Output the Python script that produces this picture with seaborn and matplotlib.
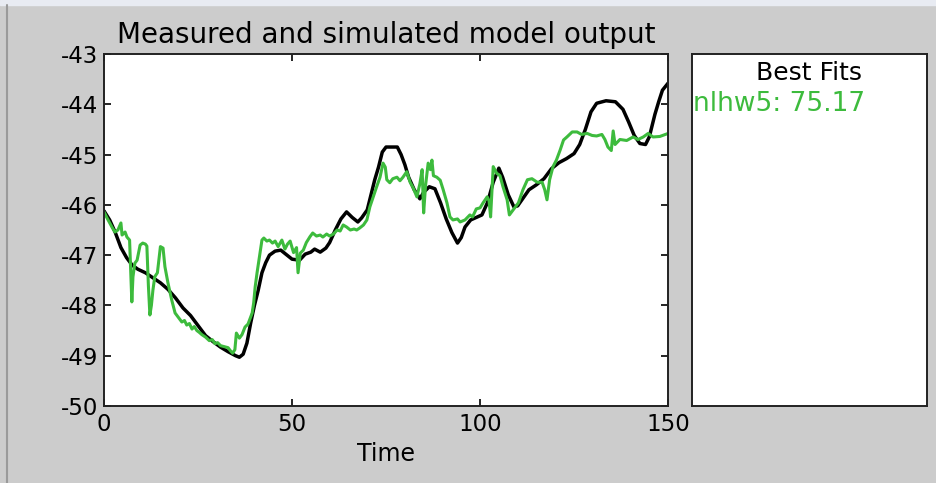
import matplotlib
matplotlib.use("Agg")
import matplotlib.pyplot as plt
import seaborn as sns

# measured output (black)
meas_t = [0, 1.5, 3, 4.5, 6, 7.5, 9, 11, 13, 15, 17, 19, 21, 23, 25, 27, 29, 31, 33, 35, 36,
          37, 38, 39, 40, 41, 42, 43, 44, 45.5, 47, 48, 50, 52, 53.5, 55, 56, 57.5, 59, 60,
          61.5, 63, 64.5, 66, 67.5, 68.5, 70, 71, 72, 73, 74, 75, 78, 79, 80, 81, 82.5, 84,
          85, 86.5, 88, 89.5, 91, 92.5, 94, 95, 96, 97.5, 99, 100.5, 102, 103.5, 105, 106,
          107.5, 109, 110, 111.5, 113, 115, 117, 119, 121, 123, 125, 126.5, 128, 129.5, 131,
          133.5, 136, 138, 139.5, 141, 142.5, 144, 145, 146.5, 147.5, 148.5, 150]
meas_y = [-46.12, -46.3, -46.55, -46.85, -47.05, -47.2, -47.28, -47.35, -47.45, -47.55, -47.68,
          -47.85, -48.05, -48.2, -48.4, -48.6, -48.72, -48.83, -48.92, -49.0, -49.03,
          -48.97, -48.75, -48.35, -48.0, -47.7, -47.35, -47.15, -47.0, -46.92, -46.9, -46.96,
          -47.08, -47.1, -46.98, -46.94, -46.88, -46.94, -46.86, -46.75,
          -46.5, -46.28, -46.14, -46.25, -46.34, -46.26, -46.1, -45.8, -45.5, -45.25, -44.95,
          -44.85, -44.85, -45.0, -45.2, -45.45, -45.7, -45.88,
          -45.75, -45.64, -45.68, -45.96, -46.28, -46.55, -46.76, -46.65, -46.44, -46.3,
          -46.25, -46.2, -45.95, -45.55, -45.27, -45.45,
          -45.8, -46.04, -46.02, -45.86, -45.7, -45.6, -45.48, -45.28, -45.16, -45.08, -44.98,
          -44.8, -44.5, -44.15, -43.98,
          -43.93, -43.95, -44.1, -44.35, -44.62, -44.78, -44.8, -44.65, -44.2, -43.95, -43.72,
          -43.58]

# simulated output nlhw5 (green)
sim_t = [0, 0.8, 2.1, 2.9, 3.7, 4.5, 4.8, 5.6, 6.1, 6.8, 7.4, 7.7, 8.2, 8.8, 9.6, 10.3, 11.0,
         11.4, 11.8, 12.2, 12.6, 13.0, 13.5, 14.2, 15.0, 15.7, 16.2, 17.0, 18.0, 18.9, 19.7,
         20.7, 21.4, 22.0, 22.7, 23.4, 24.0, 24.7, 25.4, 26.0, 27.0, 28.0, 28.8, 29.5, 30.2,
         31.0, 32.0, 33.0, 33.6, 34.2, 34.8, 35.2, 36.0, 36.7, 37.5, 38.3, 39.4, 39.8, 40.2,
         40.7, 41.2, 42.0, 42.5, 43.3, 44.0, 44.8, 45.5, 46.3, 47.3, 48.1, 48.8, 49.5, 50.4,
         51.2, 51.6, 52.2, 53.0, 53.8, 54.8, 55.5, 56.5, 57.5, 58.2, 59.2, 60.0, 61.0, 62.0,
         62.8, 63.6, 64.5, 65.5, 66.5, 67.2, 68.0, 69.0, 69.9, 70.7, 71.6, 72.5, 73.4, 74.2,
         74.8, 75.2, 76.0, 76.8, 77.9, 78.7, 79.5, 80.5, 81.4, 82.2, 83.2, 84.0, 84.6, 85.0,
         85.5, 86.2, 86.8, 87.2, 87.6, 88.5, 89.4, 90.2, 91.2, 92.0, 92.8, 94.0, 94.7, 96.0,
         97.3, 98.0, 99.0, 100.0, 100.8, 101.9, 102.4, 102.8, 103.5, 104.4, 105.3, 106.1,
         107.2, 107.8, 108.8, 110.2, 111.4, 112.6, 113.8, 115.2, 116.5, 117.2, 117.8, 118.5,
         119.4, 120.3, 121.3, 122.2, 123.1, 124.5, 125.8, 127.0, 128.5, 129.8, 131.0, 132.4,
         133.2, 134.0, 134.9, 135.4, 135.9, 137.2, 139.0, 140.7, 142.0, 143.4, 144.7, 146.0,
         147.8, 150.0]
sim_y = [-46.14, -46.26, -46.44, -46.54, -46.50, -46.36, -46.60, -46.54, -46.64, -46.70,
         -47.93, -47.43, -47.16, -47.10, -46.80, -46.76, -46.78,
         -46.82, -47.60, -48.19, -48.00, -47.70, -47.43, -47.35, -46.83, -46.86, -47.23,
         -47.55, -47.89, -48.15, -48.23,
         -48.33, -48.30, -48.39, -48.36, -48.47, -48.42, -48.50, -48.54, -48.58, -48.63,
         -48.70, -48.68, -48.76, -48.74,
         -48.80, -48.82, -48.84, -48.90, -48.95, -48.88, -48.55, -48.65, -48.58, -48.43,
         -48.37, -48.15, -47.95, -47.63,
         -47.35, -47.10, -46.70, -46.66, -46.72, -46.70, -46.76, -46.72, -46.83, -46.70,
         -46.88, -46.78, -46.72, -46.95,
         -46.85, -47.35, -46.96, -46.90, -46.75, -46.63, -46.56, -46.62, -46.60, -46.64,
         -46.58, -46.62, -46.58, -46.50,
         -46.52, -46.40, -46.44, -46.50, -46.48, -46.50, -46.46, -46.40, -46.30, -46.04,
         -45.84, -45.64, -45.45, -45.17,
         -45.25, -45.50, -45.56, -45.48, -45.45, -45.52, -45.45, -45.34, -45.55, -45.66,
         -45.84, -45.58, -45.30, -46.16,
         -45.62, -45.17, -45.30, -45.11, -45.42, -45.45, -45.51, -45.70, -45.96, -46.24,
         -46.30, -46.28, -46.34, -46.30,
         -46.20, -46.24, -46.08, -46.06, -45.96, -45.84, -45.92, -46.24, -45.24, -45.37,
         -45.42, -45.64,
         -45.90, -46.20, -46.10, -45.96, -45.70, -45.50, -45.48, -45.55, -45.55, -45.70,
         -45.90, -45.50,
         -45.24, -45.11, -44.91, -44.71, -44.65, -44.55, -44.55, -44.60, -44.58, -44.62,
         -44.63, -44.60,
         -44.70, -44.85, -44.92, -44.53, -44.80, -44.70, -44.72, -44.65, -44.70, -44.65,
         -44.58, -44.65,
         -44.64, -44.58]

fit_name = "nlhw5"
fit_value = 75.17
x_ticks = [0, 50, 100, 150]
y_ticks = [-50, -49, -48, -47, -46, -45, -44, -43]

sns.set_theme(style="ticks")
plt.rcParams["font.family"] = ["DejaVu Sans"]
plt.rcParams["axes.unicode_minus"] = False

bg = "#cccccc"
green = "#3dbb3d"
fs = 16.5

fig = plt.figure(figsize=(9.37, 4.83), dpi=100, facecolor=bg)
ax = fig.add_axes([0.111, 0.1594, 0.602, 0.7288])
ax2 = fig.add_axes([0.7385, 0.1594, 0.2508, 0.7288])

sns.lineplot(x=meas_t, y=meas_y, ax=ax, color="black", linewidth=2.5, sort=False, estimator=None)
sns.lineplot(x=sim_t, y=sim_y, ax=ax, color=green, linewidth=2.2, sort=False, estimator=None)

ax.set_xlim(0, 150)
ax.set_ylim(-50, -43)
ax.set_xticks(x_ticks)
ax.set_yticks(y_ticks)
ax.tick_params(direction="in", length=5, width=1.2, top=True, right=True,
               labelsize=fs, colors="black")
ax.tick_params(axis="x", pad=5)
ax.tick_params(axis="y", pad=4)
ax.set_title("Measured and simulated model output", fontsize=20, pad=8, color="black")
ax.set_xlabel("Time", fontsize=17, labelpad=4, color="black")
ax.set_ylabel("")
for s in ax.spines.values():
    s.set_linewidth(1.4)
    s.set_color("#222222")
    s.set_visible(True)

ax2.set_xticks([])
ax2.set_yticks([])
for s in ax2.spines.values():
    s.set_linewidth(1.4)
    s.set_color("#222222")
    s.set_visible(True)
ax2.text(0.5, 0.946, "Best Fits", transform=ax2.transAxes, ha="center", va="center",
         fontsize=18, color="black")
ax2.text(0.005, 0.858, f"{fit_name}: {fit_value:.2f}", transform=ax2.transAxes, ha="left",
         va="center", fontsize=19, color=green)

# window frame bits
fig.add_artist(plt.Line2D([0.008, 0.008], [0, 0.99], color="#9a9a9a", linewidth=1.5))
fig.add_artist(plt.Rectangle((0, 0.99), 1, 0.01, color="#e8ebf2", transform=fig.transFigure))

fig.savefig("out.png", dpi=100, facecolor=bg)
